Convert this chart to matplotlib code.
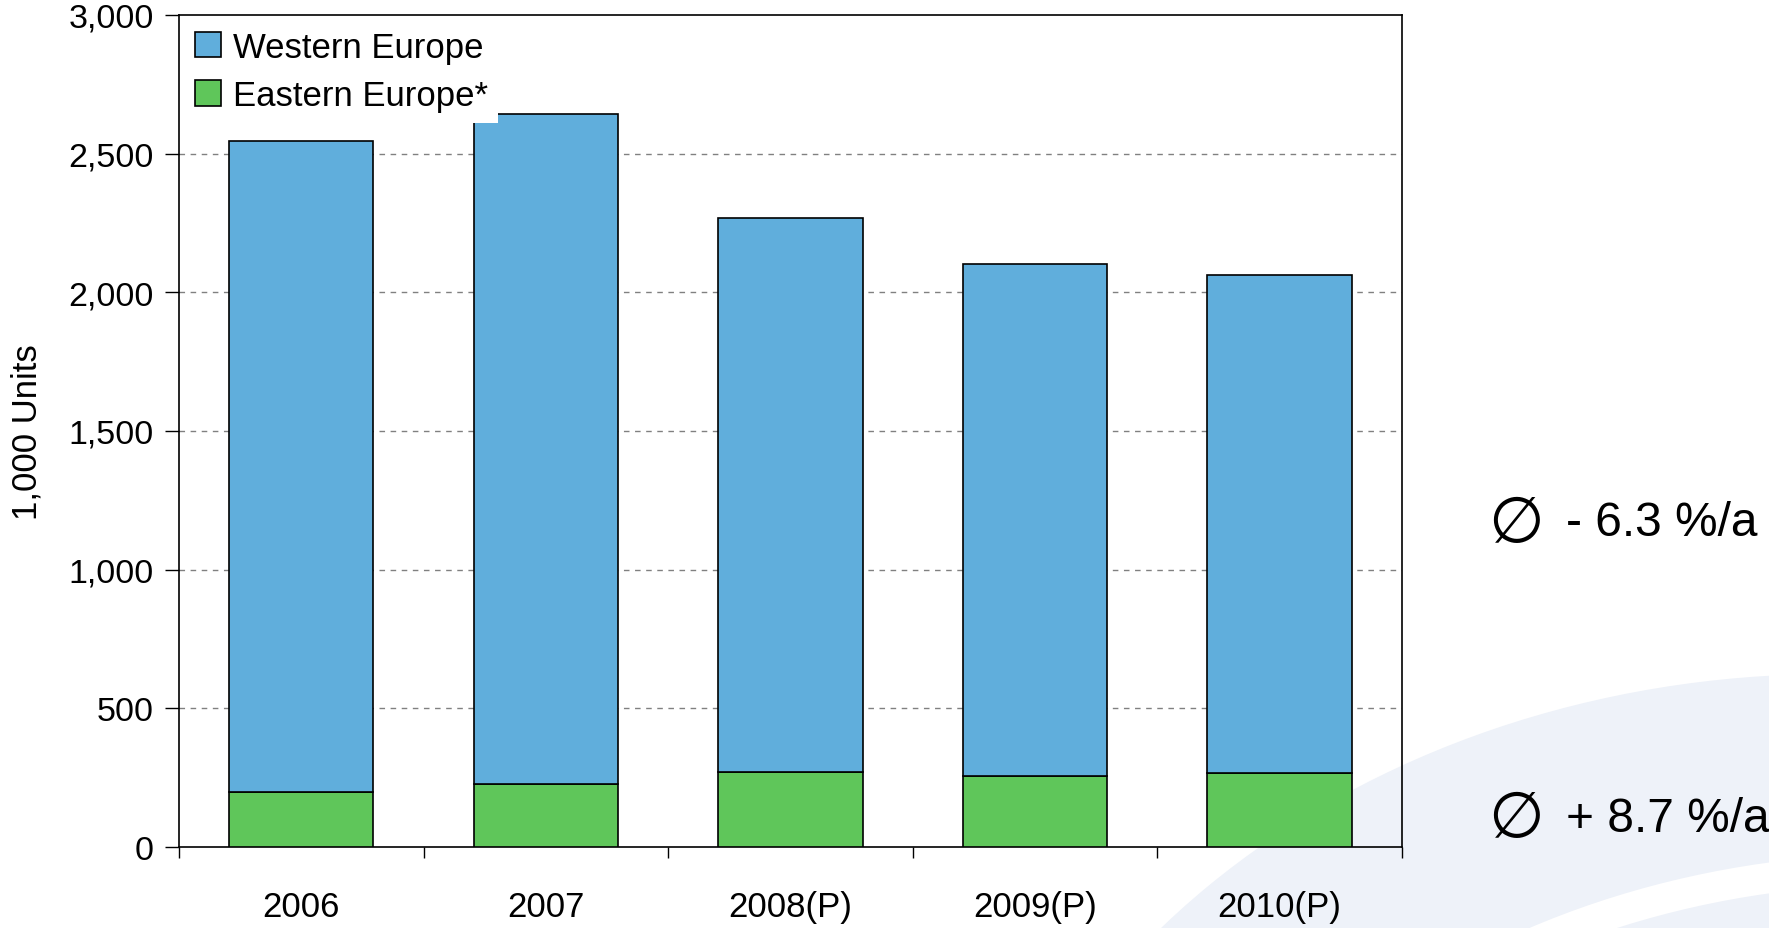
import matplotlib.pyplot as plt
from matplotlib.patches import Ellipse
import numpy as np

# Datos (1,000 unidades)
years = ['2006', '2007', '2008(P)', '2009(P)', '2010(P)']
eastern = [200, 228, 272, 256, 268]
western = [2345, 2414, 1996, 1846, 1793]
cagr_west = '- 6.3 %/a'
cagr_east = '+ 8.7 %/a'

plt.rcParams['font.family'] = ['Liberation Sans', 'DejaVu Sans']

fig = plt.figure(figsize=(17.69, 9.29), dpi=100)

# fondo con arcos claros (marca de agua)
bg = fig.add_axes([0, 0, 1, 1], zorder=-5)
bg.set_xlim(0, 1769)
bg.set_ylim(929, 0)
bg.axis('off')
bg.add_patch(Ellipse((1830, 1400), 1760, 1450, facecolor='#eef2f9', edgecolor='none'))
bg.add_patch(Ellipse((1900, 1500), 1560, 1260, fill=False, edgecolor='white', linewidth=22))

ax = fig.add_axes([0.1012, 0.0872, 0.6913, 0.8956])
ax.patch.set_alpha(0)
x = np.arange(len(years))
ax.bar(x, eastern, width=0.59, color='#5fc65a', edgecolor='black', linewidth=1.2,
       label='Eastern Europe*', zorder=3)
ax.bar(x, western, width=0.59, bottom=eastern, color='#60aedc', edgecolor='black',
       linewidth=1.2, label='Western Europe', zorder=3)

ax.set_xlim(-0.5, len(years) - 0.5)
ax.set_ylim(0, 3000)
ax.set_yticks(range(0, 3001, 500))
ax.set_yticklabels([f'{v:,}' for v in range(0, 3001, 500)])
ax.set_xticks(x)
ax.set_xticklabels(years)
ax.set_xticks(np.arange(-0.5, len(years)), minor=True)
ax.tick_params(axis='x', which='major', length=0, pad=31, labelsize=25)
ax.tick_params(axis='x', which='minor', length=8, width=1, direction='out')
ax.tick_params(axis='y', length=10, width=1, direction='out', labelsize=24.5, pad=8)
for v in range(500, 3000, 500):
    ax.axhline(v, color='#808080', linestyle=(0, (4, 4)), linewidth=1, zorder=1)
for s in ax.spines.values():
    s.set_linewidth(1.2)
ax.set_ylabel('1,000 Units', fontsize=25, labelpad=18)

h, l = ax.get_legend_handles_labels()
leg = ax.legend(h[::-1], l[::-1], loc='upper left', fontsize=25, frameon=True,
                facecolor='white', edgecolor='none', framealpha=1, fancybox=False,
                handlelength=0.75, handleheight=0.75, handletextpad=0.35,
                labelspacing=0.45, borderaxespad=0.15, borderpad=0.3)
leg.set_zorder(5)

# tasas medias anuales
for yy, txt in [(0.436, cagr_west), (0.118, cagr_east)]:
    fig.text(0.857, yy, '\u2205', fontsize=46, va='center', ha='center',
             family='DejaVu Sans')
    fig.text(0.885, yy, txt, fontsize=34.5, va='center', ha='left')

plt.savefig('out.png', dpi=100)
